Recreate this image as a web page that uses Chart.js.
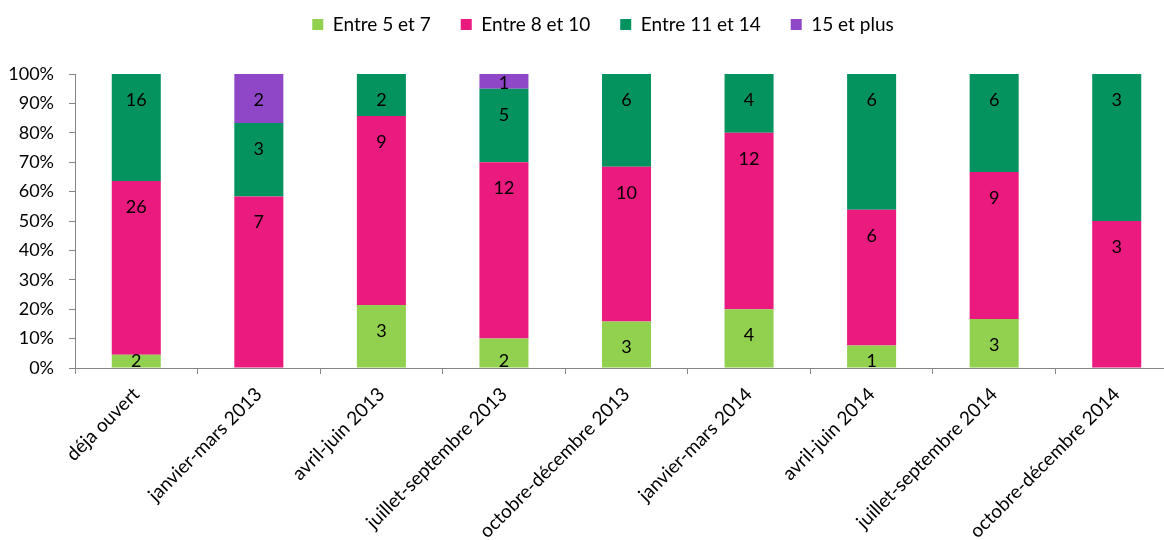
<!DOCTYPE html>
<html lang="fr">
<head>
<meta charset="utf-8">
<title>Répartition par tranche</title>
<script src="https://cdn.jsdelivr.net/npm/chart.js@4.4.1/dist/chart.umd.min.js"></script>
<style>
  html, body { margin: 0; padding: 0; background: #ffffff; overflow: hidden; }
  #wrap { position: relative; width: 1206px; height: 540px; }
</style>
</head>
<body>
<div id="wrap"><canvas id="chart" width="1206" height="540"></canvas></div>
<script>
// Periods (x categories)
const categories = [
  'déja ouvert',
  'janvier-mars 2013',
  'avril-juin 2013',
  'juillet-septembre 2013',
  'octobre-décembre 2013',
  'janvier-mars 2014',
  'avril-juin 2014',
  'juillet-septembre 2014',
  'octobre-décembre 2014'
];

// Counts per group, one array per series
const entre5et7    = [2, 0, 3, 2, 3, 4, 1, 3, 0];
const entre8et10   = [26, 7, 9, 12, 10, 12, 6, 9, 3];
const entre11et14  = [16, 3, 2, 5, 6, 4, 6, 6, 3];
const quinzeEtPlus = [0, 2, 0, 1, 0, 0, 0, 0, 0];

const seriesNames = ['Entre 5 et 7', 'Entre 8 et 10', 'Entre 11 et 14', '15 et plus'];
const seriesCounts = [entre5et7, entre8et10, entre11et14, quinzeEtPlus];
const seriesColors = ['#92D050', '#EA1A7E', '#04925F', '#8F47C7'];

// Y axis tick values (percent)
const yTicks = [0, 10, 20, 30, 40, 50, 60, 70, 80, 90, 100];

// 100% stacking: share of each group within its period
const totals = categories.map((_, i) => seriesCounts.reduce((s, arr) => s + arr[i], 0));
const shares = seriesCounts.map(arr => arr.map((v, i) => totals[i] ? v / totals[i] * 100 : 0));

const FONT = 'Lato, "Open Sans", sans-serif';

// Empty layout bands: one between legend and plot, one right of the plot
function spacer(position, size, fullSize) {
  return {
    position, weight: 0, fullSize, options: {},
    left: 0, top: 0, right: 0, bottom: 0, width: 0, height: 0,
    isHorizontal() { return position === 'top' || position === 'bottom'; },
    update(maxWidth, maxHeight) {
      if (this.isHorizontal()) { this.width = maxWidth; this.height = size; }
      else { this.width = size; this.height = maxHeight; }
      return this;
    },
    draw() {}
  };
}
const layoutSpacers = {
  id: 'layoutSpacers',
  beforeInit(chart) {
    Chart.layouts.addBox(chart, spacer('top', 30, true));
    Chart.layouts.addBox(chart, spacer('right', 28, false));
  }
};

// Writes the count inside the top end of each segment
const countLabels = {
  id: 'countLabels',
  afterDatasetsDraw(chart) {
    const ctx = chart.ctx;
    ctx.save();
    ctx.font = '18px ' + FONT;
    ctx.fillStyle = '#000000';
    ctx.textAlign = 'center';
    ctx.textBaseline = 'middle';
    chart.data.datasets.forEach((ds, di) => {
      const meta = chart.getDatasetMeta(di);
      meta.data.forEach((bar, i) => {
        const n = seriesCounts[di][i];
        if (!n) return;
        const top = Math.min(bar.y, bar.base);
        const base = Math.max(bar.y, bar.base);
        const y = Math.min(top + 26, base - 6);
        ctx.fillText(String(n), bar.x, y);
      });
    });
    ctx.restore();
  }
};

new Chart(document.getElementById('chart'), {
  type: 'bar',
  data: {
    labels: categories,
    datasets: seriesNames.map((name, k) => ({
      label: name,
      data: shares[k],
      backgroundColor: seriesColors[k],
      borderWidth: 0,
      categoryPercentage: 1,
      barPercentage: 0.4
    }))
  },
  options: {
    responsive: false,
    animation: false,
    layout: { padding: { left: 0, right: 0, top: -15, bottom: 0 } },
    plugins: {
      legend: {
        position: 'top',
        labels: {
          font: { family: FONT, size: 19 },
          color: '#000000',
          boxWidth: 11,
          boxHeight: 11,
          padding: 30
        }
      },
      tooltip: { enabled: false }
    },
    scales: {
      x: {
        stacked: true,
        grid: {
          display: true,
          drawOnChartArea: false,
          offset: true,
          color: '#868686',
          tickLength: 6
        },
        border: { color: '#868686', width: 1 },
        ticks: {
          font: { family: FONT, size: 19 },
          color: '#000000',
          padding: 9,
          maxRotation: 45,
          minRotation: 45,
          autoSkip: false
        },
        afterFit(scale) { scale.height = 172; }
      },
      y: {
        stacked: true,
        min: 0,
        max: 100,
        afterBuildTicks(scale) { scale.ticks = yTicks.map(v => ({ value: v })); },
        grid: {
          display: true,
          drawOnChartArea: false,
          color: '#868686',
          tickLength: 6
        },
        border: { color: '#868686', width: 1 },
        ticks: {
          font: { family: FONT, size: 18 },
          color: '#000000',
          padding: 15,
          callback: v => v + '%'
        },
        afterFit(scale) { scale.width = 75; }
      }
    }
  },
  plugins: [layoutSpacers, countLabels]
});
</script>
</body>
</html>
